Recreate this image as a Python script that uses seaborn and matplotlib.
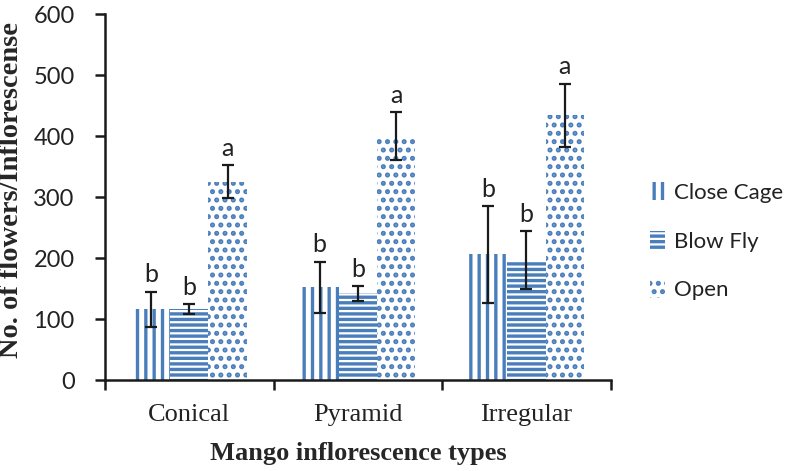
import numpy as np
import pandas as pd
import matplotlib
matplotlib.use("Agg")
import matplotlib.pyplot as plt
import seaborn as sns
from matplotlib.patches import Patch

types = ["Conical", "Pyramid", "Irregular"]
treatments = ["Close Cage", "Blow Fly", "Open"]
close_cage = [116, 152, 206]
blow_fly = [116, 142, 197]
open_ = [325, 400, 434]
close_cage_err = [29, 42, 79]
blow_fly_err = [8, 12, 47]
open_err = [27, 39, 52]
close_cage_letters = ["b", "b", "b"]
blow_fly_letters = ["b", "b", "b"]
open_letters = ["a", "a", "a"]

means = [close_cage, blow_fly, open_]
errs = [close_cage_err, blow_fly_err, open_err]
letters = [close_cage_letters, blow_fly_letters, open_letters]

df = pd.DataFrame({
    "type": types * 3,
    "treatment": np.repeat(treatments, 3),
    "value": close_cage + blow_fly + open_,
})

blue = "#4a7ebb"
hatches = ["||", "---", ".."]

sns.set_style("white")
plt.rcParams["hatch.color"] = blue
plt.rcParams["hatch.linewidth"] = 2.4

fig = plt.figure(figsize=(7.9, 4.71), dpi=100)
ax = fig.add_axes([0.133, 0.193, 0.640, 0.777])

sns.barplot(data=df, x="type", y="value", hue="treatment", order=types,
            hue_order=treatments, palette=["white"] * 3, width=0.68,
            errorbar=None, legend=False, ax=ax)

for cont, h, m, e, lt in zip(ax.containers, hatches, means, errs, letters):
    xs = []
    for bar in cont:
        bar.set_hatch(h)
        bar.set_edgecolor(blue)
        bar.set_linewidth(0)
        xs.append(bar.get_x() + bar.get_width() / 2)
    ax.errorbar(xs, m, yerr=e, fmt="none", ecolor="#1a1a1a", elinewidth=1.6,
                capsize=4, capthick=1.6, zorder=5)
    for x, v, er, t in zip(xs, m, e, lt):
        ax.annotate(t, (x, v + er), xytext=(0, 4), textcoords="offset points",
                    ha="center", va="bottom", fontsize=18, family="Lato",
                    color="#222222")

ax.set_ylim(0, 600)
ax.set_yticks(range(0, 601, 100))
ax.set_xlim(-0.5, 2.5)
ax.set_xticks([-0.5, 0.5, 1.5, 2.5])
ax.set_xticklabels([])
ax.set_xticks([0, 1, 2], minor=True)
ax.set_xticklabels(types, minor=True, fontsize=19, family="Liberation Serif",
                   color="#222222")
ax.tick_params(axis="x", which="minor", length=0, pad=17)
ax.tick_params(axis="x", which="major", direction="out", length=7, width=1.8,
               color="#1a1a1a", bottom=True)
ax.tick_params(axis="y", direction="out", length=7, width=1.8, color="#1a1a1a",
               left=True, labelsize=17, labelcolor="#222222", pad=15)
for lab in ax.get_yticklabels():
    lab.set_family("Lato")

for s in ["top", "right"]:
    ax.spines[s].set_visible(False)
for s in ["left", "bottom"]:
    ax.spines[s].set_color("#1a1a1a")
    ax.spines[s].set_linewidth(1.8)

ax.set_xlabel("Mango inflorescence types", fontsize=19, fontweight="bold",
              family="Liberation Serif", labelpad=12)
ax.set_ylabel("No. of flowers/Inflorescense", fontsize=20.5, fontweight="bold",
              family="Liberation Serif")
ax.yaxis.set_label_coords(-0.16, 0.52)

handles = [Patch(facecolor="white", edgecolor=blue, linewidth=0, hatch=h)
           for h in hatches]
fig.legend(handles, treatments, loc="center left", bbox_to_anchor=(0.811, 0.488),
           frameon=False, prop={"family": "Lato", "size": 16},
           handlelength=0.7, handleheight=0.9, handletextpad=0.4,
           labelspacing=1.25, borderaxespad=0, labelcolor="#222222")

fig.savefig("out.png", dpi=100)
